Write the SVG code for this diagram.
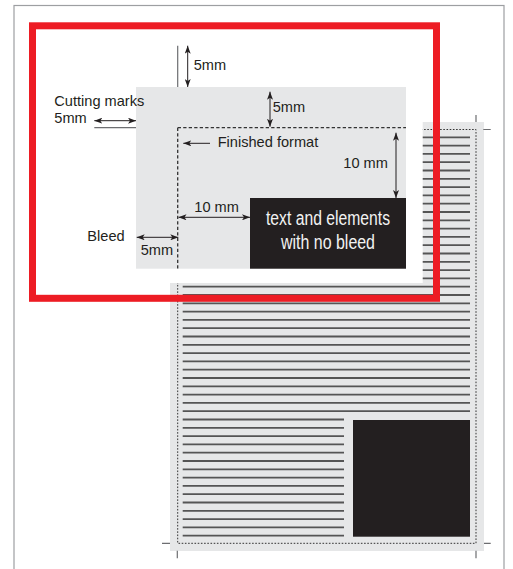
<svg xmlns="http://www.w3.org/2000/svg" width="513" height="569" viewBox="0 0 513 569">
<style>
.lbl{font-family:"Liberation Sans",Arial,sans-serif;font-size:14.6px;fill:#231f20}
.box{font-family:"Liberation Sans",Arial,sans-serif;font-size:19.5px;fill:#f2f2f2;text-anchor:middle}
.arr{stroke:#231f20;stroke-width:1;fill:none}
.mark{stroke:#6d6e71;stroke-width:1.2;fill:none}
.grey{fill:#e6e7e8}
</style>
<defs>
<marker id="ah" viewBox="0 0 8 6" refX="8" refY="3" markerWidth="8" markerHeight="6" markerUnits="userSpaceOnUse" orient="auto-start-reverse">
<path d="M0,0 L8,3 L0,6 L2,3 z" fill="#231f20"/>
</marker>
</defs>
<rect x="0" y="0" width="513" height="569" fill="#ffffff"/>
<rect x="14" y="5.5" width="490" height="580" fill="none" stroke="#9d9fa2" stroke-width="1.2"/>
<g id="page">
<rect class="grey" x="170" y="122" width="314" height="429"/>
<path fill="none" stroke="#555" stroke-width="1.8" d="M182.7 137.3H470M182.7 145.6H470M182.7 153.9H470M182.7 162.2H470M182.7 170.5H470M182.7 178.8H470M182.7 187.1H470M182.7 195.4H470M182.7 203.7H470M182.7 212H470M182.7 220.3H470M182.7 228.6H470M182.7 236.9H470M182.7 245.2H470M182.7 253.5H470M182.7 261.8H470M182.7 270.1H470M182.7 278.4H470M182.7 286.7H470M182.7 295H470M182.7 303.3H470M182.7 311.6H470M182.7 319.9H470M182.7 328.2H470M182.7 336.5H470M182.7 344.8H470M182.7 353.1H470M182.7 361.4H470M182.7 369.7H470M182.7 378H470M182.7 386.3H470M182.7 394.6H470M182.7 402.9H470M182.7 411.2H470"/>
<path fill="none" stroke="#555" stroke-width="1.8" d="M182.7 419.5H344M182.7 427.8H344M182.7 436.1H344M182.7 444.4H344M182.7 452.7H344M182.7 461H344M182.7 469.3H344M182.7 477.6H344M182.7 485.9H344M182.7 494.2H344M182.7 502.5H344M182.7 510.8H344M182.7 519.1H344M182.7 527.4H344M182.7 535.7H344"/>
<rect x="353" y="420" width="117" height="116.7" fill="#231f20"/>
<rect x="177.7" y="129.5" width="298.3" height="413.8" fill="none" stroke="#333" stroke-width="1" stroke-dasharray="1.6 1.6"/>
<path class="mark" d="M476 115V122M483.3 129.5H490.7M162 543.3H170M177.3 550.7V558.3M484 543.3H490.7M476 550.7V558.3"/>
</g>
<g id="detail">
<rect x="36" y="29" width="386.7" height="254" fill="#ffffff"/>
<rect class="grey" x="136" y="87" width="270" height="181.7"/>
<path d="M177.7 127.7H406M177.7 127.7V268.7" fill="none" stroke="#333" stroke-width="1.3" stroke-dasharray="3.3 2.2"/>
<path class="mark" d="M177.7 45.7V87M94.3 127.7H136"/>
</g>
<g id="nobleed-box">
<rect x="250" y="198" width="156" height="70.7" fill="#231f20"/>
<text class="box" x="328" y="225" textLength="124" lengthAdjust="spacingAndGlyphs">text and elements</text>
<text class="box" x="328" y="248.5" textLength="94" lengthAdjust="spacingAndGlyphs">with no bleed</text>
</g>
<g id="connectors">
<line class="arr" x1="187.7" y1="45.7" x2="187.7" y2="87" marker-start="url(#ah)" marker-end="url(#ah)"/>
<line class="arr" x1="94.3" y1="120.7" x2="136" y2="120.7" marker-start="url(#ah)" marker-end="url(#ah)"/>
<line class="arr" x1="270" y1="91.7" x2="270" y2="126.7" marker-start="url(#ah)" marker-end="url(#ah)"/>
<line class="arr" x1="210" y1="143.3" x2="183.3" y2="143.3" marker-end="url(#ah)"/>
<line class="arr" x1="396" y1="132.7" x2="396" y2="198" marker-start="url(#ah)" marker-end="url(#ah)"/>
<line class="arr" x1="178.5" y1="217.3" x2="250" y2="217.3" marker-start="url(#ah)" marker-end="url(#ah)"/>
<line class="arr" x1="136.7" y1="237.3" x2="178.3" y2="237.3" marker-start="url(#ah)" marker-end="url(#ah)"/>
</g>
<g id="labels">
<text class="lbl" x="193.7" y="70">5mm</text>
<text class="lbl" x="54.3" y="106">Cutting marks</text>
<text class="lbl" x="54.3" y="123.3">5mm</text>
<text class="lbl" x="272.7" y="112.3">5mm</text>
<text class="lbl" x="217.7" y="147.3">Finished format</text>
<text class="lbl" x="343.3" y="168.3">10 mm</text>
<text class="lbl" x="194.3" y="212">10 mm</text>
<text class="lbl" x="87.3" y="240.7">Bleed</text>
<text class="lbl" x="140.7" y="254.7">5mm</text>
</g>
<rect id="highlight" x="32.5" y="25.8" width="404" height="272.5" fill="none" stroke="#ed1c24" stroke-width="7"/>
</svg>
